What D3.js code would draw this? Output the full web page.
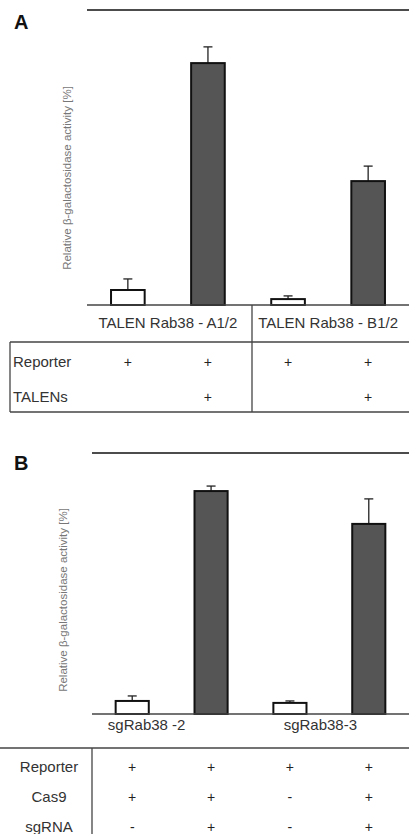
<!DOCTYPE html>
<html>
<head>
<meta charset="utf-8">
<script src="https://cdn.jsdelivr.net/npm/d3@7"></script>
<style>
  body { margin: 0; background: #fff; }
  text { font-family: "Liberation Sans", Arial, sans-serif; }
</style>
</head>
<body>
<svg id="chart" width="409" height="834"></svg>
<script>
// Panel A data
const aCategories = ['TALEN Rab38 - A1/2', 'TALEN Rab38 - B1/2'];
const aBars = ['A1/2 ctrl', 'A1/2 TALEN', 'B1/2 ctrl', 'B1/2 TALEN'];
const aValues = [6.1, 98.4, 2.4, 50.4];
const aErrors = [4.5, 6.6, 1.3, 6.1];
const aRows = ['Reporter', 'TALENs'];
const aSigns = [['+', '+', '+', '+'], ['', '+', '', '+']];

// Panel B data
const bCategories = ['sgRab38 -2', 'sgRab38-3'];
const bBars = ['2 ctrl', '2 full', '3 ctrl', '3 full'];
const bValues = [6.0, 102.5, 5.1, 87.4];
const bErrors = [2.3, 2.3, 0.9, 11.5];
const bRows = ['Reporter', 'Cas9', 'sgRNA'];
const bSigns = [['+', '+', '+', '+'], ['+', '+', '-', '+'], ['-', '+', '-', '+']];

const barFills = ['#ffffff', '#555555', '#ffffff', '#555555'];
const yLabel = 'Relative β-galactosidase activity [%]';

const svg = d3.select('#chart');

function drawPanel(opt) {
  const g = svg.append('g');
  const x = d3.scaleBand().domain(opt.bars).range([opt.x0, opt.x1]).paddingInner(0.58).paddingOuter(0.3);
  const y = d3.scaleLinear().domain([0, 120]).range([opt.base, opt.top]);

  // letter
  g.append('text').attr('x', 14).attr('y', opt.letterY)
    .attr('font-size', 20).attr('font-weight', 'bold').attr('fill', '#111')
    .text(opt.letter);

  // top frame line
  g.append('line').attr('x1', opt.lineX).attr('x2', 409).attr('y1', y(120)).attr('y2', y(120))
    .attr('stroke', '#111').attr('stroke-width', 1.5);

  // y label
  g.append('text')
    .attr('transform', `translate(${opt.labelX},${opt.labelY}) rotate(-90)`)
    .attr('text-anchor', 'middle').attr('font-size', 11.5).attr('fill', '#777')
    .text(yLabel);

  // error bars
  opt.values.forEach((v, i) => {
    const cx = x(opt.bars[i]) + x.bandwidth() / 2;
    const yt = y(v + opt.errors[i]);
    g.append('line').attr('x1', cx).attr('x2', cx).attr('y1', y(v)).attr('y2', yt)
      .attr('stroke', '#222').attr('stroke-width', 1.3);
    g.append('line').attr('x1', cx - 4.5).attr('x2', cx + 4.5).attr('y1', yt).attr('y2', yt)
      .attr('stroke', '#222').attr('stroke-width', 1.3);
  });

  // bars
  g.selectAll('.bar').data(opt.values).enter().append('rect')
    .attr('x', (d, i) => x(opt.bars[i]))
    .attr('width', x.bandwidth())
    .attr('y', d => y(d))
    .attr('height', d => y(0) - y(d))
    .attr('fill', (d, i) => barFills[i])
    .attr('stroke', '#111').attr('stroke-width', 2);

  g.append('line').attr('x1', opt.lineX).attr('x2', 409).attr('y1', y(0)).attr('y2', y(0))
    .attr('stroke', '#444').attr('stroke-width', 1.5);

  // category labels
  opt.categories.forEach((c, k) => {
    const a = x(opt.bars[k * 2]) + x.bandwidth() / 2;
    const b = x(opt.bars[k * 2 + 1]) + x.bandwidth() / 2;
    g.append('text').attr('x', (a + b) / 2 + opt.catDx[k]).attr('y', y(0) + opt.catDy)
      .attr('text-anchor', 'middle').attr('font-size', 15).attr('fill', '#333')
      .text(c);
  });

  // table
  opt.rows.forEach((r, j) => {
    const ry = opt.rowY[j];
    g.append('text').attr('x', opt.rowLabelX).attr('y', ry).attr('dy', '0.35em')
      .attr('text-anchor', opt.rowAnchor).attr('font-size', 15).attr('fill', '#333')
      .text(r);
    opt.signs[j].forEach((s, i) => {
      g.append('text').attr('x', x(opt.bars[i]) + x.bandwidth() / 2).attr('y', ry).attr('dy', '0.35em')
        .attr('text-anchor', 'middle').attr('font-size', 14).attr('fill', '#222')
        .text(s);
    });
  });
  return { g, x, y };
}

// Panel A
const pa = drawPanel({
  letter: 'A', letterY: 29, bars: aBars, values: aValues, errors: aErrors,
  categories: aCategories, rows: aRows, signs: aSigns,
  x0: 87, x1: 409, base: 305, top: 10, lineX: 87, labelX: 71, labelY: 178,
  catDx: [0, 0], catDy: 23, rowY: [362, 397], rowLabelX: 13, rowAnchor: 'start'
});
pa.g.append('line').attr('x1', 10).attr('x2', 409).attr('y1', 342).attr('y2', 342).attr('stroke', '#444').attr('stroke-width', 1.3);
pa.g.append('line').attr('x1', 10).attr('x2', 409).attr('y1', 412).attr('y2', 412).attr('stroke', '#444').attr('stroke-width', 1.3);
pa.g.append('line').attr('x1', 10).attr('x2', 10).attr('y1', 342).attr('y2', 412).attr('stroke', '#444').attr('stroke-width', 1.3);
pa.g.append('line').attr('x1', 252).attr('x2', 252).attr('y1', 305).attr('y2', 412).attr('stroke', '#444').attr('stroke-width', 1.3);

// Panel B
const pb = drawPanel({
  letter: 'B', letterY: 470, bars: bBars, values: bValues, errors: bErrors,
  categories: bCategories, rows: bRows, signs: bSigns,
  x0: 92, x1: 409, base: 714, top: 453, lineX: 92, labelX: 67, labelY: 600,
  catDx: [-25, -9], catDy: 16, rowY: [767, 797, 827], rowLabelX: 49, rowAnchor: 'middle'
});
pb.g.append('line').attr('x1', 0).attr('x2', 409).attr('y1', 748).attr('y2', 748).attr('stroke', '#444').attr('stroke-width', 1.3);
pb.g.append('line').attr('x1', 92).attr('x2', 92).attr('y1', 748).attr('y2', 834).attr('stroke', '#444').attr('stroke-width', 1.3);
</script>
</body>
</html>
